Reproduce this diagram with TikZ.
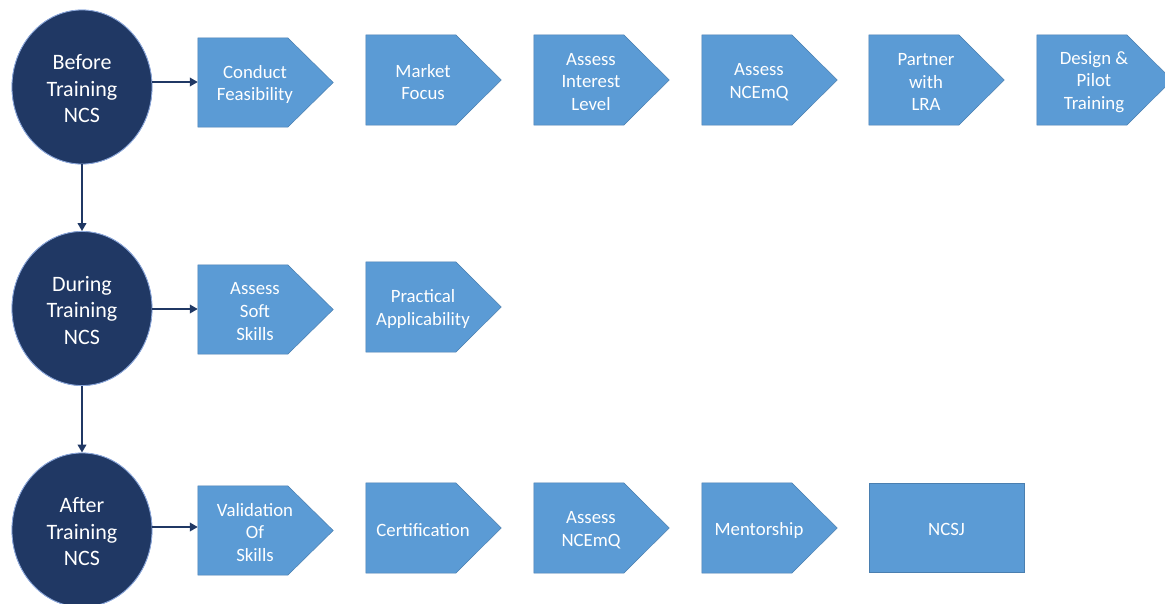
\documentclass[tikz,border=0pt]{standalone}
\usepackage{fontspec}
\setmainfont{Carlito}
\usetikzlibrary{shapes.geometric,calc,arrows.meta,backgrounds}
\definecolor{navy}{HTML}{203864}
\definecolor{ring}{HTML}{8FAADC}
\definecolor{boxfill}{HTML}{5B9BD5}
\definecolor{boxline}{HTML}{4A7FB0}
\begin{document}
\begin{tikzpicture}[x=1pt,y=-1pt,
  phase/.style={ellipse,fill=navy,draw=ring,line width=0.8pt,minimum width=140pt,minimum height=154pt,inner sep=0pt},
  phasetext/.style={text=white,align=center,inner sep=0pt,font=\fontsize{22}{26.5}\selectfont,yshift=-2pt},
  stepbox/.style={minimum width=114pt,minimum height=89pt,inner sep=0pt},
  steptext/.style={text=white,align=center,inner sep=0pt,font=\fontsize{18.8}{22.6}\selectfont,yshift=-2pt},
  shapefill/.style={fill=boxfill,draw=boxline,line width=0.5pt},
  link/.style={draw=navy,line width=2.3pt,-{Triangle[length=8pt,width=8.5pt]}}]
\useasboundingbox (0,0) rectangle (1165,603);
\clip (0,0) rectangle (1165,603);
% phases
\node[phase,label={[phasetext]center:{Before\\Training\\NCS}}] (before) at (82,87) {};
\node[phase,label={[phasetext]center:{During\\Training\\NCS}}] (during) at (82,308.5) {};
\node[phase,label={[phasetext]center:{After\\Training\\NCS}}] (after) at (82,530) {};
% row 1
\node[stepbox,label={[steptext]center:{Conduct\\Feasibility}}] (cf) at (255,82.5) {};
\node[stepbox,minimum height=90pt,label={[steptext]center:{Market\\Focus}}] (mf) at (423,80) {};
\node[stepbox,minimum height=90pt,label={[steptext]center:{Assess\\Interest\\Level}}] (ail) at (591,80) {};
\node[stepbox,minimum height=90pt,label={[steptext]center:{Assess\\NCEmQ}}] (an1) at (759,80) {};
\node[stepbox,minimum height=90pt,label={[steptext]center:{Partner\\with\\LRA}}] (pl) at (926,80) {};
\node[stepbox,minimum height=90pt,label={[steptext]center:{Design \&\\Pilot\\Training}}] (dp) at (1094,80) {};
% row 2
\node[stepbox,label={[steptext]center:{Assess\\Soft\\Skills}}] (ss) at (255,309.5) {};
\node[stepbox,minimum height=90pt,label={[steptext]center:{Practical\\Applicability}}] (pa) at (423,307) {};
% row 3
\node[stepbox,label={[steptext]center:{Validation\\Of\\Skills}}] (vs) at (255,530.5) {};
\node[stepbox,minimum height=90pt,label={[steptext]center:{Certification}}] (ce) at (423,528) {};
\node[stepbox,minimum height=90pt,label={[steptext]center:{Assess\\NCEmQ}}] (an2) at (591,528) {};
\node[stepbox,minimum height=90pt,label={[steptext]center:{Mentorship}}] (me) at (759,528) {};
\node[stepbox,minimum width=155pt,minimum height=89pt,label={[steptext]center:{NCSJ}}] (nj) at (946.5,527.5) {};
\begin{scope}[on background layer]
  \foreach \n in {cf,mf,ail,an1,pl,dp,ss,pa,vs,ce,an2,me}{
    \draw[shapefill] (\n.north west) -- ($(\n.north west)+(90,0)$) -- ($(\n.east)+(21,0)$)
      -- ($(\n.south west)+(90,0)$) -- (\n.south west) -- cycle;
  }
  \draw[shapefill] (nj.north west) rectangle (nj.south east);
  \foreach \n in {before,during,after}{
    \draw[fill=navy,draw=ring,line width=0.8pt] (\n.center) ellipse [x radius=70pt,y radius=77pt];
  }
\end{scope}
% connectors
\draw[link] (before.south) -- (during.north);
\draw[link] (during.south) -- (after.north);
\draw[link] (before.east |- 0,82) -- (cf.west |- 0,82);
\draw[link] (during.east |- 0,309) -- (ss.west |- 0,309);
\draw[link] (after.east |- 0,527) -- (vs.west |- 0,527);
\end{tikzpicture}
\end{document}
